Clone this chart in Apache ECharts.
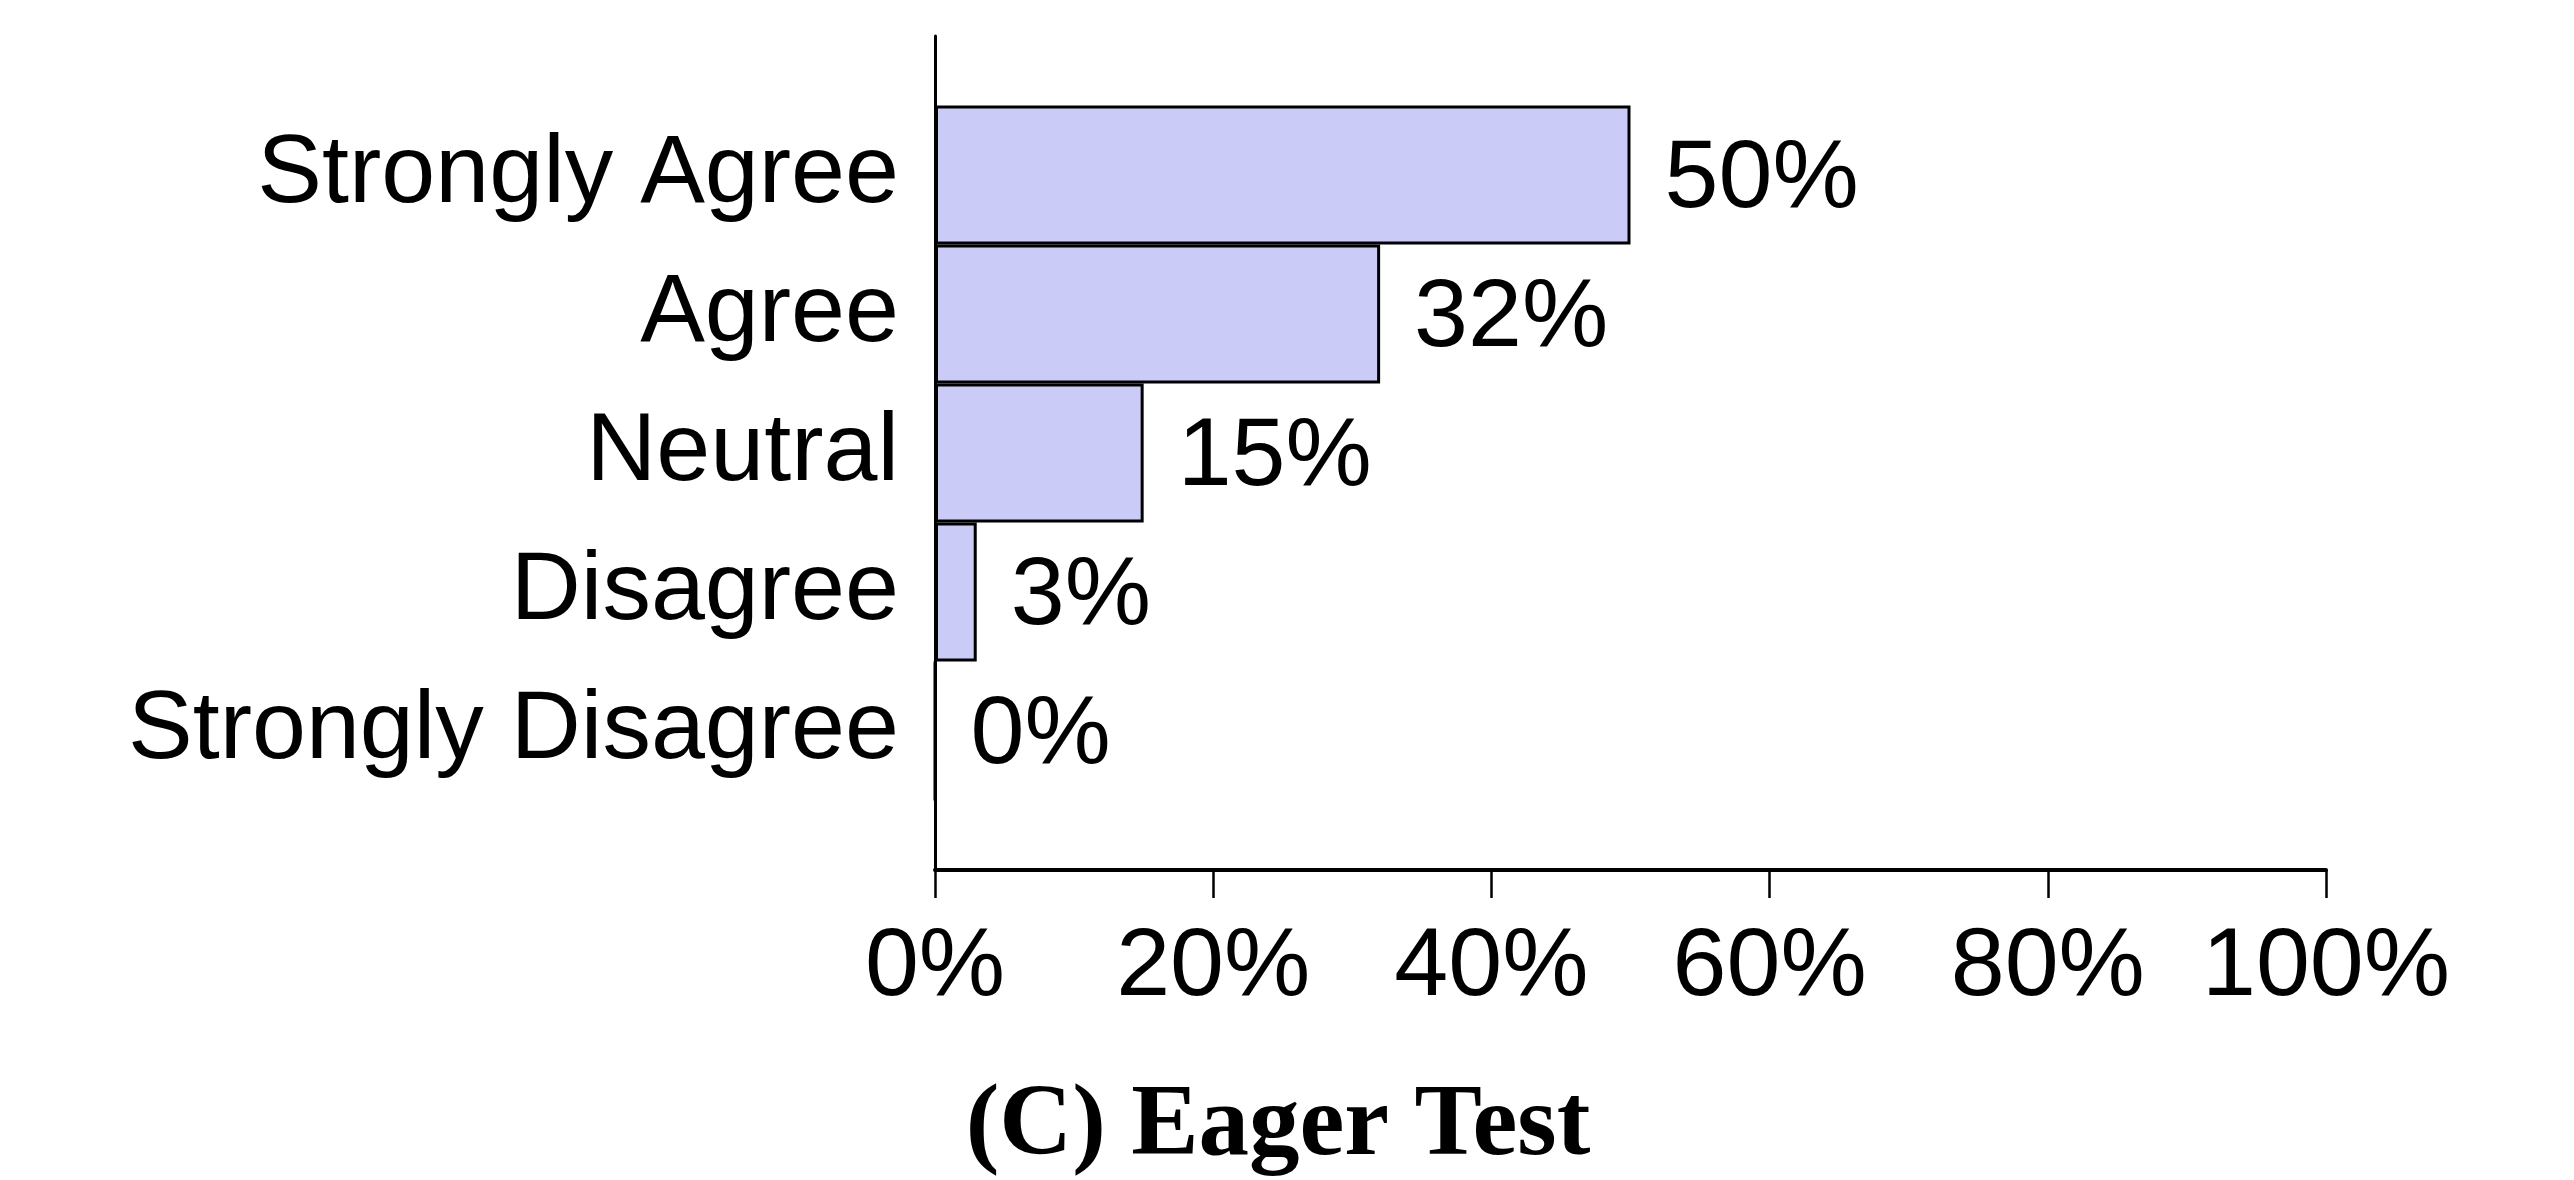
<!DOCTYPE html>
<html>
<head>
<meta charset="utf-8">
<script src="https://cdn.jsdelivr.net/npm/echarts@6/dist/echarts.min.js"></script>
<style>
html,body{margin:0;padding:0;background:#fff;}
#chart{width:2574px;height:1180px;}
</style>
</head>
<body>
<div id="chart"></div>
<script>
const categories = ['Strongly Agree', 'Agree', 'Neutral', 'Disagree', 'Strongly Disagree'];
const values = [50, 32, 15, 3, 0];
const xTicks = [0, 20, 40, 60, 80, 100];
const titleText = '(C) Eager Test';

// pad with blank slots so the axis line extends half a band past the bars
const yData = [' '].concat(categories, ['  ']);
const barData = ['-'].concat(values, ['-']);

const chart = echarts.init(document.getElementById('chart'), null, {renderer: 'canvas'});
chart.setOption({
  animation: false,
  backgroundColor: '#ffffff',
  title: {
    text: titleText,
    left: 1273,
    top: 1072,
    textAlign: 'center',
    textStyle: {
      fontFamily: 'Liberation Serif',
      fontWeight: 'bold',
      fontSize: 101,
      color: '#000'
    }
  },
  grid: {
    left: 935,
    right: 248,
    top: 36,
    bottom: 310,
    containLabel: false,
    outerBoundsMode: 'none'
  },
  xAxis: {
    type: 'value',
    min: xTicks[0],
    max: xTicks[xTicks.length - 1],
    interval: xTicks[1] - xTicks[0],
    axisLine: {show: true, lineStyle: {color: '#000', width: 4}},
    axisTick: {show: true, length: 28, inside: false, lineStyle: {color: '#000', width: 2.5}},
    splitLine: {show: false},
    axisLabel: {
      formatter: '{value}%',
      fontFamily: 'Liberation Sans',
      fontSize: 97,
      color: '#000',
      margin: 50
    }
  },
  yAxis: {
    type: 'category',
    data: yData,
    inverse: true,
    boundaryGap: false,
    axisLine: {show: true, lineStyle: {color: '#000', width: 3}},
    axisTick: {show: false},
    splitLine: {show: false},
    axisLabel: {
      fontFamily: 'Liberation Sans',
      fontSize: 97,
      color: '#000',
      margin: 36,
      interval: 0,
      padding: [0, 0, 12, 0]
    }
  },
  series: [{
    type: 'bar',
    data: barData,
    barCategoryGap: '0%',
    itemStyle: {color: '#cbcbf8', borderColor: '#000', borderWidth: 3},
    label: {
      show: true,
      position: 'right',
      distance: 34,
      offset: [0, 5],
      formatter: function (p) { return p.value + '%'; },
      fontFamily: 'Liberation Sans',
      fontSize: 97,
      color: '#000'
    }
  }]
});
</script>
</body>
</html>
